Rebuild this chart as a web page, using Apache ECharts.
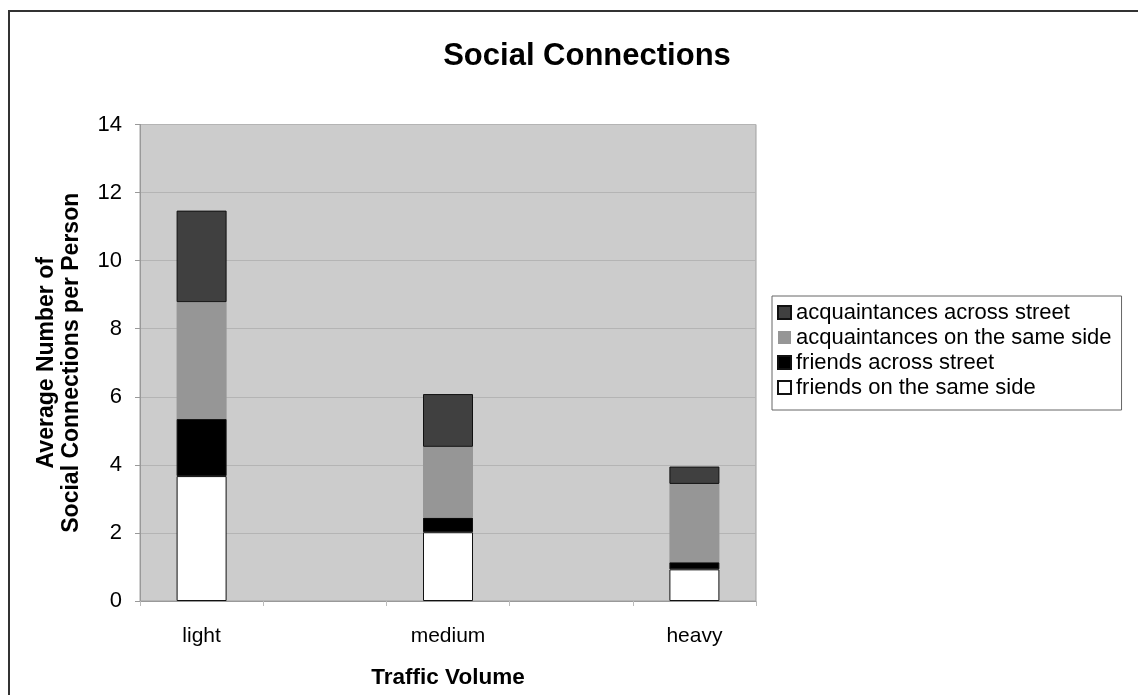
<!DOCTYPE html>
<html>
<head>
<meta charset="utf-8">
<script src="https://cdn.jsdelivr.net/npm/echarts@6/dist/echarts.min.js"></script>
<style>
html,body{margin:0;padding:0;background:#fff;}
#chart{width:1138px;height:695px;}
</style>
</head>
<body>
<div id="chart"></div>
<script>
// ---- data ----
const categories = ['light', 'medium', 'heavy'];
const friendsSameSide = [3.67, 2.02, 0.93];
const friendsAcross = [1.68, 0.43, 0.21];
const acqSameSide = [3.43, 2.08, 2.30];
const acqAcross = [2.69, 1.55, 0.51];
const yTicks = [0, 2, 4, 6, 8, 10, 12, 14];
const seriesNames = ['friends on the same side', 'friends across street', 'acquaintances on the same side', 'acquaintances across street'];

// expand to slots with empty gaps between categories (Excel-style spacing)
function slots(arr, gap) {
  const out = [];
  arr.forEach((v, i) => { if (i > 0) out.push(gap); out.push(v); });
  return out;
}
const slotCats = slots(categories, '');

const FONT = '"Liberation Sans", Arial, sans-serif';
const chart = echarts.init(document.getElementById('chart'));

const seriesDefs = [
  { name: seriesNames[0], data: friendsSameSide, color: '#ffffff', border: 1 },
  { name: seriesNames[1], data: friendsAcross, color: '#000000', border: 1 },
  { name: seriesNames[2], data: acqSameSide, color: '#969696', border: 0 },
  { name: seriesNames[3], data: acqAcross, color: '#404040', border: 1 }
];

chart.setOption({
  animation: false,
  backgroundColor: '#ffffff',
  textStyle: { fontFamily: FONT },
  title: {
    text: 'Social Connections',
    left: 582,
    textAlign: 'center',
    top: 33,
    textStyle: { fontFamily: FONT, fontSize: 31, fontWeight: 'bold', color: '#000', lineHeight: 36 }
  },
  legend: {
    orient: 'vertical',
    left: 772,
    top: 296,
    data: seriesNames.slice().reverse(),
    icon: 'rect',
    itemWidth: 13,
    itemHeight: 13,
    itemGap: 0,
    padding: [4, 10, 10, 5],
    borderColor: '#666',
    borderWidth: 1,
    textStyle: { fontFamily: FONT, fontSize: 22, color: '#000', lineHeight: 25, padding: [0, 0, 0, 0] },
    selectedMode: false
  },
  grid: {
    left: 140,
    top: 124.5,
    right: 382,
    bottom: 94,
    show: true,
    backgroundColor: '#cccccc',
    borderColor: '#a0a0a0',
    borderWidth: 1
  },
  xAxis: {
    type: 'category',
    data: slotCats,
    name: 'Traffic Volume',
    nameLocation: 'middle',
    nameGap: 65,
    nameTextStyle: { fontFamily: FONT, fontSize: 22.5, fontWeight: 'bold', color: '#000' },
    axisLine: { lineStyle: { color: '#999' } },
    axisTick: { show: true, length: 5, lineStyle: { color: '#bbb' } },
    axisLabel: { interval: 0, fontFamily: FONT, fontSize: 21, color: '#000', margin: 25 },
    splitLine: { show: false }
  },
  yAxis: {
    type: 'value',
    min: yTicks[0],
    max: yTicks[yTicks.length - 1],
    interval: yTicks[1] - yTicks[0],
    name: 'Average Number of\nSocial Connections per Person',
    nameLocation: 'middle',
    nameRotate: 90,
    nameGap: 56,
    nameTextStyle: { fontFamily: FONT, fontSize: 23, fontWeight: 'bold', color: '#000', lineHeight: 25 },
    axisLine: { show: true, lineStyle: { color: '#999' } },
    axisTick: { show: true, length: 5, lineStyle: { color: '#999' } },
    axisLabel: { fontFamily: FONT, fontSize: 22, color: '#000', margin: 18 },
    splitLine: { show: true, lineStyle: { color: '#b4b4b4', width: 1 } }
  },
  series: seriesDefs.map(s => ({
    name: s.name,
    type: 'bar',
    stack: 'total',
    barWidth: 50,
    data: slots(s.data, null),
    itemStyle: { color: s.color, borderColor: '#111', borderWidth: s.border },
    emphasis: { disabled: true }
  })),
  graphic: [{
    type: 'rect',
    shape: { x: 9, y: 11, width: 1300, height: 900 },
    style: { fill: 'none', stroke: '#333', lineWidth: 2 },
    silent: true
  }]
});
</script>
</body>
</html>
